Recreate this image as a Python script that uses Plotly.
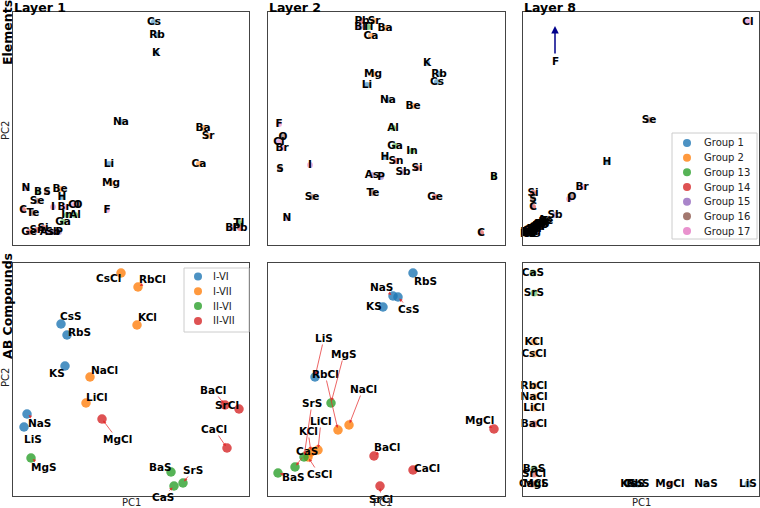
import plotly.graph_objects as go

# ---------------- data ----------------
GROUPS = ["Group 1", "Group 2", "Group 13", "Group 14", "Group 15", "Group 16", "Group 17"]
GROUP_COLORS = ["#1f77b4", "#ff7f0e", "#2ca02c", "#d62728", "#9467bd", "#8c564b", "#e377c2"]

elements = ["H", "Li", "Na", "K", "Rb", "Cs",
            "Be", "Mg", "Ca", "Sr", "Ba",
            "B", "Al", "Ga", "In", "Tl",
            "C", "Si", "Ge", "Sn", "Pb",
            "N", "P", "As", "Sb", "Bi",
            "O", "S", "Se", "Te",
            "F", "Cl", "Br", "I"]
element_group = (["Group 1"] * 6 + ["Group 2"] * 5 + ["Group 13"] * 5 + ["Group 14"] * 5
                 + ["Group 15"] * 5 + ["Group 16"] * 4 + ["Group 17"] * 4)

# Layer 1 element PCA (PC1, PC2)
l1_pc1 = [49, 96, 108, 143, 144, 141, 47, 98, 186, 195, 190, 25, 62, 50, 54, 226,
          10, 30, 16, 24, 227, 13, 46, 34, 40, 218, 65, 34, 24, 20, 94, 61, 51, 40]
l1_pc2 = [48, 81, 123, 192, 210, 223, 56, 62, 81, 109, 117, 53, 30, 23, 30, 22,
          35, 17, 13, 15, 17, 57, 13, 13, 13, 17, 40, 53, 44, 32, 35, 40, 38, 38]
# Layer 2 element PCA
l2_pc1 = [117, 99, 120, 159, 171, 169, 145, 105, 103, 106, 117, 226, 125, 127, 144, 100,
          213, 149, 167, 128, 94, 19, 113, 104, 135, 92, 15, 12, 44, 105, 11, 11, 14, 42]
l2_pc2 = [88, 160, 145, 182, 171, 163, 139, 171, 209, 224, 217, 68, 117, 99, 94, 218,
          12, 77, 48, 84, 224, 27, 68, 70, 73, 218, 108, 76, 48, 52, 121, 103, 97, 80]
# Layer 8 element PCA (F lies above the visible range -> arrow)
l8_pc1 = [84, 4, 5, 6, 5, 6, 8, 9, 8, 10, 11, 12, 13, 14, 15, 16,
          10, 10, 17, 18, 19, 20, 21, 22, 32, 6, 49, 10, 126, 24, 32, 225, 59, 46]
l8_pc2 = [83, 12, 11, 12, 13, 11, 14, 13, 15, 15, 16, 17, 18, 18, 19, 19,
          38, 52, 20, 21, 21, 23, 22, 25, 30, 12, 48, 46, 125, 24, 219, 223, 58, 46]

CLASSES = ["I-VI", "I-VII", "II-VI", "II-VII"]
CLASS_COLORS = ["#1f77b4", "#ff7f0e", "#2ca02c", "#d62728"]
compounds = ["LiS", "NaS", "KS", "RbS", "CsS",
             "LiCl", "NaCl", "KCl", "RbCl", "CsCl",
             "MgS", "CaS", "SrS", "BaS",
             "MgCl", "CaCl", "SrCl", "BaCl"]
compound_class = ["I-VI"] * 5 + ["I-VII"] * 5 + ["II-VI"] * 4 + ["II-VII"] * 4

c1_pc1 = [11, 14, 52, 54, 48, 73, 77, 124, 125, 108, 18, 161, 170, 158, 89, 214, 226, 212]
c1_pc2 = [69, 82, 130, 161, 172, 93, 119, 171, 209, 223, 38, 10, 13, 24, 77, 48, 87, 91]
c2_pc1 = [47, 125, 115, 145, 130, 50, 81, 43, 70, 40, 63, 27, 36, 10, 226, 145, 112, 106]
c2_pc2 = [119, 200, 189, 223, 199, 46, 71, 44, 66, 39, 93, 29, 39, 23, 67, 26, 10, 40]
c8_pc1 = [225, 183, 105, 115, 111, 11, 11, 11, 11, 11, 13, 10, 11, 11, 147, 9, 11, 11]
c8_pc2 = [12, 12, 12, 12, 12, 88, 99, 154, 110, 142, 12, 223, 203, 27, 12, 12, 22, 72]

# label placement (pixel offsets of text from point, adjustText-like)
c1_label_off = [(9, 12), (12, 9), (-8, 7), (12, -3), (10, -8),
                (11, -6), (14, -7), (10, -8), (14, -8), (-13, 5),
                (13, 9), (-11, 11), (10, -13), (-11, -5),
                (15, 20), (-13, -19), (-12, -4), (-12, -15)]
c2_label_off = [(9, -39), (-12, -9), (-9, -1), (12, 8), (11, 12),
                (3, -29), (14, -36), (-3, -21), (-13, -56), (11, 17),
                (13, -49), (12, -16), (8, -54), (15, 4),
                (-15, -9), (14, -2), (1, 13), (13, -9)]

# ---------------- figure ----------------
W, H = 760, 508
FONT = "DejaVu Sans"
fig = go.Figure()

col_px = [(13, 249), (268, 505), (523, 759)]
row_px = [(12, 245), (263, 496)]

def ax_name(i, kind):
    return kind if i == 0 else f"{kind}{i + 1}"

for i in range(6):
    r, c = divmod(i, 3)
    x0, x1 = col_px[c]
    y0, y1 = row_px[r]
    fig.layout[ax_name(i, "xaxis")] = dict(
        domain=[x0 / W, x1 / W], range=[0, x1 - x0], anchor=ax_name(i, "y"),
        showgrid=False, zeroline=False, showticklabels=False, ticks="",
        showline=True, mirror=True, linecolor="#444444", linewidth=1, fixedrange=True)
    fig.layout[ax_name(i, "yaxis")] = dict(
        domain=[1 - y1 / H, 1 - y0 / H], range=[0, y1 - y0], anchor=ax_name(i, "x"),
        showgrid=False, zeroline=False, showticklabels=False, ticks="",
        showline=True, mirror=True, linecolor="#444444", linewidth=1, fixedrange=True)

def xr(i):
    return "x" if i == 0 else f"x{i + 1}"

def yr(i):
    return "y" if i == 0 else f"y{i + 1}"

label_font = dict(family=FONT, size=10.5, color="black", weight="bold")

# Element panels
for p, (px, py) in enumerate([(l1_pc1, l1_pc2), (l2_pc1, l2_pc2), (l8_pc1, l8_pc2)]):
    keep = [k for k in range(len(elements)) if not (p == 2 and elements[k] == "F")]
    for g, col in zip(GROUPS, GROUP_COLORS):
        idx = [k for k in keep if element_group[k] == g]
        fig.add_trace(go.Scatter(
            x=[px[k] for k in idx], y=[py[k] for k in idx], mode="markers",
            marker=dict(size=6, color=col, opacity=0.55, line=dict(width=0)),
            xaxis=xr(p), yaxis=yr(p), showlegend=False, hoverinfo="skip", cliponaxis=False))
    fig.add_trace(go.Scatter(
        x=[px[k] for k in keep], y=[py[k] for k in keep], mode="text",
        text=[elements[k] for k in keep], textposition="middle center", textfont=label_font,
        xaxis=xr(p), yaxis=yr(p), showlegend=False, hoverinfo="skip", cliponaxis=False))

# F arrow in layer 8
fk = elements.index("F")
fig.add_annotation(x=l8_pc1[fk], y=l8_pc2[fk], xref="x3", yref="y3", text="F",
                   showarrow=True, ax=0, ay=35, arrowcolor="#00008b", arrowwidth=1.5,
                   arrowhead=2, arrowsize=1, standoff=0, font=label_font)

# Compound panels
for p, (px, py) in zip([3, 4, 5], [(c1_pc1, c1_pc2), (c2_pc1, c2_pc2), (c8_pc1, c8_pc2)]):
    big = p != 5
    for cl, col in zip(CLASSES, CLASS_COLORS):
        idx = [k for k in range(len(compounds)) if compound_class[k] == cl]
        fig.add_trace(go.Scatter(
            x=[px[k] for k in idx], y=[py[k] for k in idx], mode="markers",
            marker=dict(size=9.5 if big else 7, color=col, opacity=0.8 if big else 0.5, line=dict(width=0)),
            xaxis=xr(p), yaxis=yr(p), showlegend=False, hoverinfo="skip", cliponaxis=False))
    if p == 5:
        fig.add_trace(go.Scatter(
            x=px, y=py, mode="text", text=compounds, textposition="middle center",
            textfont=label_font, xaxis=xr(p), yaxis=yr(p), showlegend=False,
            hoverinfo="skip", cliponaxis=False))
    else:
        offs = c1_label_off if p == 3 else c2_label_off
        for k, name in enumerate(compounds):
            fig.add_annotation(x=px[k], y=py[k], xref=xr(p), yref=yr(p), text=name,
                               showarrow=True, ax=offs[k][0], ay=offs[k][1],
                               arrowcolor="rgba(230,40,40,0.9)", arrowwidth=0.8, arrowhead=2,
                               arrowsize=0.8, standoff=2, font=label_font, borderpad=0)

# Matplotlib-style legends (compact rows)
leg_font = dict(family=FONT, size=10, color="#222")

def draw_legend(names, colors, box, mark_x, text_x, row0, step):
    bx0, by0, bx1, by1 = box
    fig.add_shape(type="rect", xref="paper", yref="paper",
                  x0=bx0 / W, x1=bx1 / W, y0=1 - by1 / H, y1=1 - by0 / H,
                  line=dict(color="#cccccc", width=1), fillcolor="rgba(255,255,255,0.8)",
                  layer="above")
    for j, (nm, col) in enumerate(zip(names, colors)):
        yy = row0 + j * step
        fig.add_shape(type="circle", xref="paper", yref="paper",
                      xsizemode="pixel", ysizemode="pixel",
                      xanchor=mark_x / W, yanchor=1 - yy / H,
                      x0=-4, x1=4, y0=-4, y1=4,
                      fillcolor=col, opacity=0.8, line=dict(width=0), layer="above")
        fig.add_annotation(x=text_x / W, y=1 - yy / H, xref="paper", yref="paper",
                           text=nm, showarrow=False, xanchor="left", yanchor="middle",
                           font=leg_font, borderpad=0)

draw_legend(GROUPS, GROUP_COLORS, (672, 133, 757, 239), 687, 703, 143, 14.67)
draw_legend(CLASSES, CLASS_COLORS, (184, 268, 249, 332), 198, 212, 276.5, 14.8)

# Titles and axis labels
title_font = dict(family=FONT, size=12.5, color="black", weight="bold")
for c, t in enumerate(["Layer 1", "Layer 2", "Layer 8"]):
    fig.add_annotation(x=col_px[c][0] / W, y=1 + 1 / H, xref="paper", yref="paper",
                       text=t, showarrow=False, xanchor="left", yanchor="top",
                       font=title_font, borderpad=0)
fig.add_annotation(x=7 / W, y=1 - 33 / H, xref="paper", yref="paper", text="Elements",
                   textangle=-90, showarrow=False, font=title_font,
                   xanchor="center", yanchor="middle", borderpad=0)
fig.add_annotation(x=7 / W, y=1 - 306 / H, xref="paper", yref="paper", text="AB Compounds",
                   textangle=-90, showarrow=False, font=title_font,
                   xanchor="center", yanchor="middle")
small = dict(family=FONT, size=10, color="#222")
for yy in (131, 378):
    fig.add_annotation(x=5 / W, y=1 - yy / H, xref="paper", yref="paper", text="PC2",
                       textangle=-90, showarrow=False, font=small,
                       xanchor="center", yanchor="middle")
for xx in (131, 382, 641):
    fig.add_annotation(x=xx / W, y=1 - 502 / H, xref="paper", yref="paper", text="PC1",
                       showarrow=False, font=small, xanchor="center", yanchor="middle")

fig.update_layout(width=W, height=H, margin=dict(l=0, r=0, t=0, b=0),
                  paper_bgcolor="white", plot_bgcolor="white", showlegend=False,
                  font=dict(family=FONT), hovermode=False)

fig.write_html("out.html", config={"displayModeBar": False, "staticPlot": True},
               post_script="document.body.style.margin='0';document.body.style.padding='0';"
                           "document.body.style.overflow='hidden';")
